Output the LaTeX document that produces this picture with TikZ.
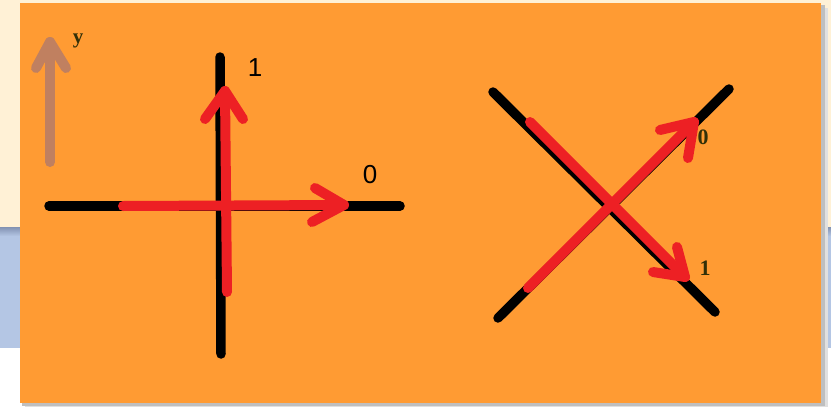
\documentclass[tikz,border=0pt]{standalone}
\usepackage{fontspec}
\newfontfamily\lblsans{Liberation Sans}
\newfontfamily\lblserif{Liberation Serif}
\definecolor{bgorange}{RGB}{255,155,51}
\definecolor{bgcream}{RGB}{255,241,214}
\definecolor{bgblue}{RGB}{180,198,228}
\definecolor{bgbluedark}{RGB}{130,146,178}
\definecolor{penred}{RGB}{237,32,36}
\definecolor{penbrown}{RGB}{192,128,96}
\definecolor{olive}{RGB}{50,48,8}
\tikzset{
  blackpen/.style={line width=9.5pt, line cap=round, black},
  redpen/.style={line width=10pt, line cap=round, line join=round, penred},
  brownpen/.style={line width=10pt, line cap=round, line join=round, penbrown},
  biglbl/.style={font=\lblsans\fontsize{26}{26}\selectfont, inner sep=0pt, text=black},
  smalllbl/.style={font=\lblserif\bfseries\fontsize{22}{22}\selectfont, inner sep=0pt, text=olive},
}
\begin{document}
\begin{tikzpicture}[x=1pt,y=-1pt]
\useasboundingbox (0,0) rectangle (831,407);
% background
\fill[white] (0,0) rectangle (831,407);
\fill[bgcream] (0,0) rectangle (831,227);
\fill[bgblue] (0,227) rectangle (831,348);
\shade[top color=bgbluedark, bottom color=bgblue] (0,227) rectangle (831,236);
% shadow
\fill[black!12] (25,8) rectangle (828,407);
\fill[black!25] (22,5) rectangle (825,406);
% orange card
\fill[bgorange] (20,3) rectangle (821,403);

% ---- left figure ----
\coordinate (hL) at (49,206);
\coordinate (hR) at (400,206);
\coordinate (vT) at (220,57);
\coordinate (vB) at (221,354);
\draw[blackpen] (hL) -- (hR);
\draw[blackpen] (vT) -- (vB);

\coordinate (r0s) at (123,206);
\coordinate (r0t) at (344,205);
\coordinate (r0a) at (315,188);
\coordinate (r0b) at (312,222);
\draw[redpen] (r0s) -- (r0t);
\draw[redpen] (r0a) -- (r0t) -- (r0b);

\coordinate (r1s) at (227,292);
\coordinate (r1t) at (225,91);
\coordinate (r1a) at (205,119);
\coordinate (r1b) at (243,119);
\draw[redpen] (r1s) -- (r1t);
\draw[redpen] (r1a) -- (r1t) -- (r1b);

\node[biglbl] (one) at (255,68) {1};
\node[biglbl] (zero) at (370,175) {0};

% brown y arrow
\coordinate (ys) at (50,162);
\coordinate (yt) at (50,42);
\coordinate (ya) at (36,68);
\coordinate (yb) at (66,68);
\draw[brownpen] (ys) -- (yt);
\draw[brownpen] (ya) -- (yt) -- (yb);
\node[smalllbl, font=\lblserif\bfseries\fontsize{21}{21}\selectfont] (ylbl) at (78,41) {y};

% ---- right figure ----
\coordinate (dA) at (493,92);
\coordinate (dB) at (715,312);
\coordinate (dC) at (498,318);
\coordinate (dD) at (729,89);
\draw[blackpen] (dA) -- (dB);
\draw[blackpen] (dC) -- (dD);

\coordinate (rAs) at (530,122);
\coordinate (rAt) at (685,277);
\coordinate (rAa) at (677,247);
\coordinate (rAb) at (653,272);
\draw[redpen] (rAs) -- (rAt);
\draw[redpen] (rAa) -- (rAt) -- (rAb);

\coordinate (rBs) at (528,288);
\coordinate (rBt) at (694,122);
\coordinate (rBa) at (660,130);
\coordinate (rBb) at (688,158);
\draw[redpen] (rBs) -- (rBt);
\draw[redpen] (rBa) -- (rBt) -- (rBb);

\node[smalllbl] (xzero) at (703,137) {0};
\node[smalllbl] (xone) at (705,268) {1};
\end{tikzpicture}
\end{document}
